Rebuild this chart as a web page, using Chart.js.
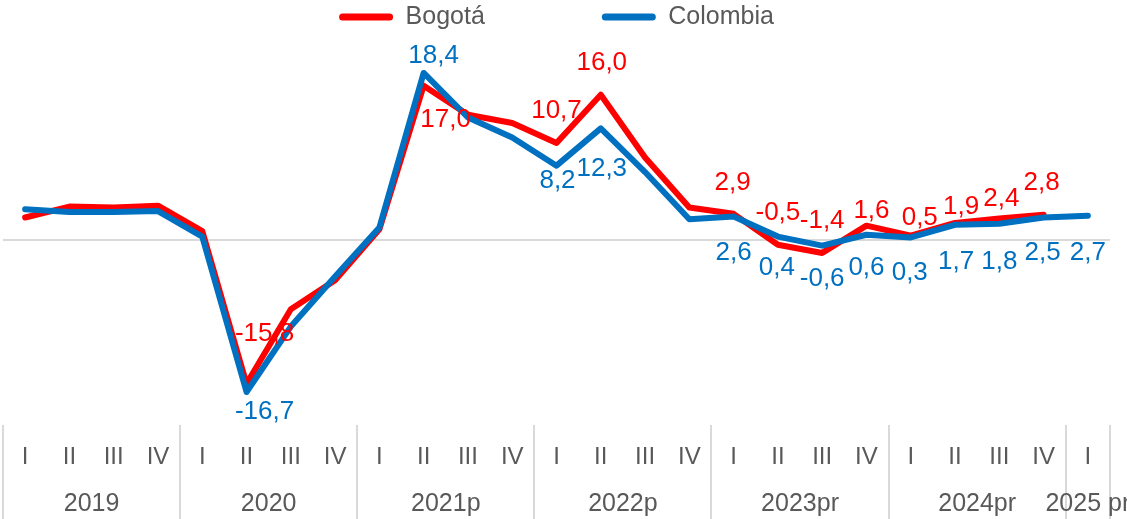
<!DOCTYPE html>
<html>
<head>
<meta charset="utf-8">
<script src="https://cdn.jsdelivr.net/npm/chart.js@4.4.0/dist/chart.umd.min.js"></script>
<style>
html,body{margin:0;padding:0;background:#ffffff;}
#wrap{width:1127px;height:519px;position:relative;}
</style>
</head>
<body>
<div id="wrap"><canvas id="c" width="1127" height="519"></canvas></div>
<script>
// ---- data ----
const quarters = ['I','II','III','IV','I','II','III','IV','I','II','III','IV','I','II','III','IV','I','II','III','IV','I','II','III','IV','I'];
const years = ['2019','2020','2021p','2022p','2023pr','2024pr','2025 pr'];
const yearSpans = [4,4,4,4,4,4,1];
const bogota = [2.5,3.7,3.6,3.8,1.0,-15.8,-7.6,-4.4,1.2,17.0,13.8,12.9,10.7,16.0,9.1,3.6,2.9,-0.5,-1.4,1.6,0.5,1.9,2.4,2.8,null];
const colombia = [3.4,3.1,3.1,3.2,0.4,-16.7,-9.5,-4.0,1.4,18.4,13.5,11.3,8.2,12.3,7.5,2.3,2.6,0.4,-0.6,0.6,0.3,1.7,1.8,2.5,2.7];
const bogotaLabeled = [5,9,12,13,16,17,18,19,20,21,22,23];
const colombiaLabeled = [5,9,12,13,16,17,18,19,20,21,22,23,24];

// ---- label placement (offsets of text centre from point, px) ----
const labelOffsets = {
  0: {5:[18,-50],9:[22,34],12:[0,-32],13:[1,-32],16:[-1,-31],17:[0,-32],18:[0,-32],19:[5,-15],20:[9,-18],21:[6,-16],22:[2,-20],23:[-2,-32]},
  1: {5:[18,20],9:[10,-17],12:[1,15],13:[1,40],16:[0,36],17:[-1,31],18:[0,33],19:[0,33],20:[-1,35],21:[1,37],22:[0,38],23:[-1,35],24:[0,37]}
};
const labeledIdx = {0: bogotaLabeled, 1: colombiaLabeled};
const FONT = "'Liberation Sans', Arial, sans-serif";
const fmt = v => v.toFixed(1).replace('.', ',');

const dataLabelPlugin = {
  id: 'dataLabelsCustom',
  afterDatasetsDraw(chart) {
    const ctx = chart.ctx;
    ctx.save();
    ctx.font = '26px ' + FONT;
    ctx.textAlign = 'center';
    ctx.textBaseline = 'middle';
    chart.data.datasets.forEach((ds, di) => {
      const meta = chart.getDatasetMeta(di);
      ctx.fillStyle = ds.borderColor;
      labeledIdx[di].forEach(i => {
        const el = meta.data[i];
        const v = ds.data[i];
        if (!el || v === null) return;
        const off = labelOffsets[di][i] || [0, 0];
        ctx.fillText(fmt(v), el.x + off[0], el.y + off[1]);
      });
    });
    ctx.restore();
  }
};

const yearAxisPlugin = {
  id: 'yearAxis',
  afterDraw(chart) {
    const ctx = chart.ctx;
    const xs = chart.scales.x;
    const half = (xs.getPixelForValue(1) - xs.getPixelForValue(0)) / 2;
    const top = chart.chartArea.bottom + 3;
    const bottom = chart.height;
    ctx.save();
    ctx.strokeStyle = '#D9D9D9';
    ctx.lineWidth = 2;
    let idx = 0;
    const bounds = [0];
    yearSpans.forEach(s => { idx += s; bounds.push(idx); });
    bounds.forEach(b => {
      const x = Math.round(xs.getPixelForValue(Math.min(b, quarters.length - 1)) + (b >= quarters.length ? half : -half));
      ctx.beginPath();
      ctx.moveTo(x, top);
      ctx.lineTo(x, bottom);
      ctx.stroke();
    });
    ctx.fillStyle = '#595959';
    ctx.font = '25px ' + FONT;
    ctx.textAlign = 'center';
    ctx.textBaseline = 'middle';
    years.forEach((y, k) => {
      const a = bounds[k], b = bounds[k + 1] - 1;
      const cx = (xs.getPixelForValue(a) + xs.getPixelForValue(b)) / 2;
      ctx.fillText(y, cx, 504);
    });
    ctx.restore();
  }
};

new Chart(document.getElementById('c'), {
  type: 'line',
  data: {
    labels: quarters,
    datasets: [
      { label: 'Bogotá', data: bogota, borderColor: '#FF0000', backgroundColor: '#FF0000',
        borderWidth: 6, pointRadius: 0, tension: 0, borderJoinStyle: 'round', borderCapStyle: 'round', order: 1 },
      { label: 'Colombia', data: colombia, borderColor: '#0070C0', backgroundColor: '#0070C0',
        borderWidth: 6, pointRadius: 0, tension: 0, borderJoinStyle: 'round', borderCapStyle: 'round', order: 0 }
    ]
  },
  options: {
    responsive: false,
    animation: false,
    devicePixelRatio: 1,
    layout: { padding: { top: -112.5, left: 3, right: 17, bottom: 0 } },
    plugins: {
      legend: {
        position: 'top',
        reverse: true,
        labels: {
          boxWidth: 54, boxHeight: 7, padding: 117,
          useBorderRadius: true, borderRadius: 3.5,
          color: '#595959', font: { size: 25, family: FONT },
          generateLabels: chart => Chart.defaults.plugins.legend.labels.generateLabels(chart)
            .map(l => Object.assign(l, { lineWidth: 0 }))
        }
      },
      tooltip: { enabled: false }
    },
    scales: {
      x: {
        type: 'category',
        offset: true,
        grid: { display: false, drawTicks: false },
        border: { display: false },
        ticks: { color: '#595959', font: { size: 24, family: FONT }, padding: 21, autoSkip: false, maxRotation: 0 },
        afterFit(scale) { scale.height = 97; }
      },
      y: {
        min: -20, max: 22.08,
        ticks: { display: false, stepSize: 5 },
        border: { display: false },
        grid: {
          drawTicks: false,
          lineWidth: 2,
          color: c => (c.tick && c.tick.value === 0) ? '#D9D9D9' : 'rgba(0,0,0,0)'
        }
      }
    }
  },
  plugins: [dataLabelPlugin, yearAxisPlugin]
});
</script>
</body>
</html>
